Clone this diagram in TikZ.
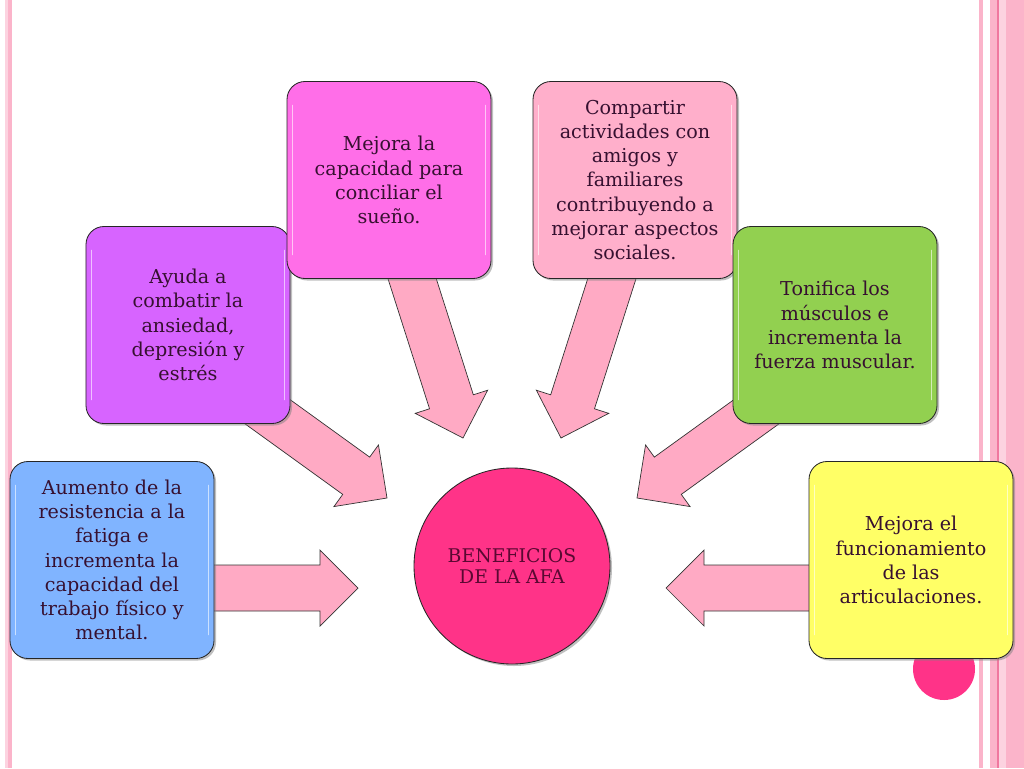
\documentclass[tikz,border=0pt]{standalone}
\usepackage{fontspec}
\setmainfont{DejaVu Serif}
\usetikzlibrary{calc,shadows}
\definecolor{txt}{HTML}{361030}
\definecolor{hubtxt}{HTML}{5A0832}
\definecolor{arrowpink}{HTML}{FFAAC4}
\definecolor{stripe}{HTML}{FBB4CA}
\definecolor{stripelight}{HTML}{FCD3E0}
\definecolor{stripedark}{HTML}{F0789F}
\definecolor{hub}{HTML}{FF3388}
\definecolor{blueb}{HTML}{80B4FF}
\definecolor{purpleb}{HTML}{D764FF}
\definecolor{magentab}{HTML}{FF6EE8}
\definecolor{pinkb}{HTML}{FFAFCB}
\definecolor{greenb}{HTML}{92D050}
\definecolor{yellowb}{HTML}{FFFF66}
\newcommand\shaftw{5.75mm}
\newcommand\headw{9.5mm}
\newcommand\headl{9.5mm}
% block arrow from tail coordinate to tip coordinate
\newcommand\blockarrow[2]{%
  \draw[bigarrow] let \p1=($(#2)-(#1)$), \n1={atan2(\y1,\x1)}, \n2={veclen(\x1,\y1)} in
    ($(#1)+(\n1+90:\shaftw)$) -- ($(#1)+(\n1:{\n2-\headl})+(\n1+90:\shaftw)$)
    -- ($(#1)+(\n1:{\n2-\headl})+(\n1+90:\headw)$) -- (#2)
    -- ($(#1)+(\n1:{\n2-\headl})+(\n1-90:\headw)$)
    -- ($(#1)+(\n1:{\n2-\headl})+(\n1-90:\shaftw)$)
    -- ($(#1)+(\n1-90:\shaftw)$) -- cycle;}

\begin{document}
\begin{tikzpicture}[x=0.25mm, y=-0.25mm,
    benefit/.style={draw=black!85, line width=0.6pt, rounded corners=4.5mm,
      minimum width=51mm, minimum height=49.25mm, align=center, text=txt,
      font=\fontsize{13.6}{17.2}\selectfont,
      drop shadow={shadow xshift=0.5mm, shadow yshift=-0.5mm, opacity=0.5},
      path picture={\draw[white, opacity=.6, line width=1.2pt, line cap=round]
        ([xshift=1.4mm,yshift=-6mm]path picture bounding box.north west) -- ([xshift=1.4mm,yshift=6mm]path picture bounding box.south west)
        ([xshift=-1.4mm,yshift=-6mm]path picture bounding box.north east) -- ([xshift=-1.4mm,yshift=6mm]path picture bounding box.south east);}},
    bigarrow/.style={draw=black!80, line width=0.5pt, fill=arrowpink}]
  \useasboundingbox (0,0) rectangle (1024,768);
  % page stripes
  \fill[stripelight] (5,0) rectangle (7.5,768);
  \fill[stripe] (8,0) rectangle (12,768);
  \fill[stripe] (979,0) rectangle (983,768);
  \fill[stripe] (990,0) rectangle (1024,768);
  \fill[stripedark] (997,0) rectangle (998.5,768);
  \fill[stripelight] (999,0) rectangle (1006,768);
  \fill[hub] (944,669) circle (31); % corner dot

  \coordinate (t1) at (200,588); \coordinate (h1) at (358,588);
  \coordinate (t2) at (225,381); \coordinate (h2) at (387,498);
  \coordinate (t3) at (402,247); \coordinate (h3) at (463,438);
  \coordinate (t4) at (622,247); \coordinate (h4) at (561,438);
  \coordinate (t5) at (799,381); \coordinate (h5) at (637,498);
  \coordinate (t6) at (823,588); \coordinate (h6) at (666,588);
  \blockarrow{t1}{h1}
  \blockarrow{t2}{h2}
  \blockarrow{t3}{h3}
  \blockarrow{t4}{h4}
  \blockarrow{t5}{h5}
  \blockarrow{t6}{h6}

  \node (resist) at (112,560) [benefit, fill=blueb] {Aumento de la\\resistencia a la\\fatiga e\\incrementa la\\capacidad del\\trabajo físico y\\mental.};
  \node (anxiety) at (188,325) [benefit, fill=purpleb] {Ayuda a\\combatir la\\ansiedad,\\depresión y\\estrés};
  \node (sleep) at (389,180) [benefit, fill=magentab] {Mejora la\\capacidad para\\conciliar el\\sueño.};
  \node (social) at (635,180) [benefit, fill=pinkb] {Compartir\\actividades con\\amigos y\\familiares\\contribuyendo a\\mejorar aspectos\\sociales.};
  \node (muscle) at (835,325) [benefit, fill=greenb] {Tonifica los\\músculos e\\incrementa la\\fuerza muscular.};
  \node (joints) at (911,560) [benefit, fill=yellowb] {Mejora el\\funcionamiento\\de las\\articulaciones.};

  \node (afa) at (512,566) [circle, minimum size=49mm, fill=hub, draw=black!85, line width=0.6pt,
    drop shadow={shadow xshift=0.5mm, shadow yshift=-0.5mm, opacity=0.5},
    align=center, text=hubtxt, font=\fontsize{13.4}{15.6}\selectfont] {BENEFICIOS\\DE LA AFA};
\end{tikzpicture}
\end{document}
